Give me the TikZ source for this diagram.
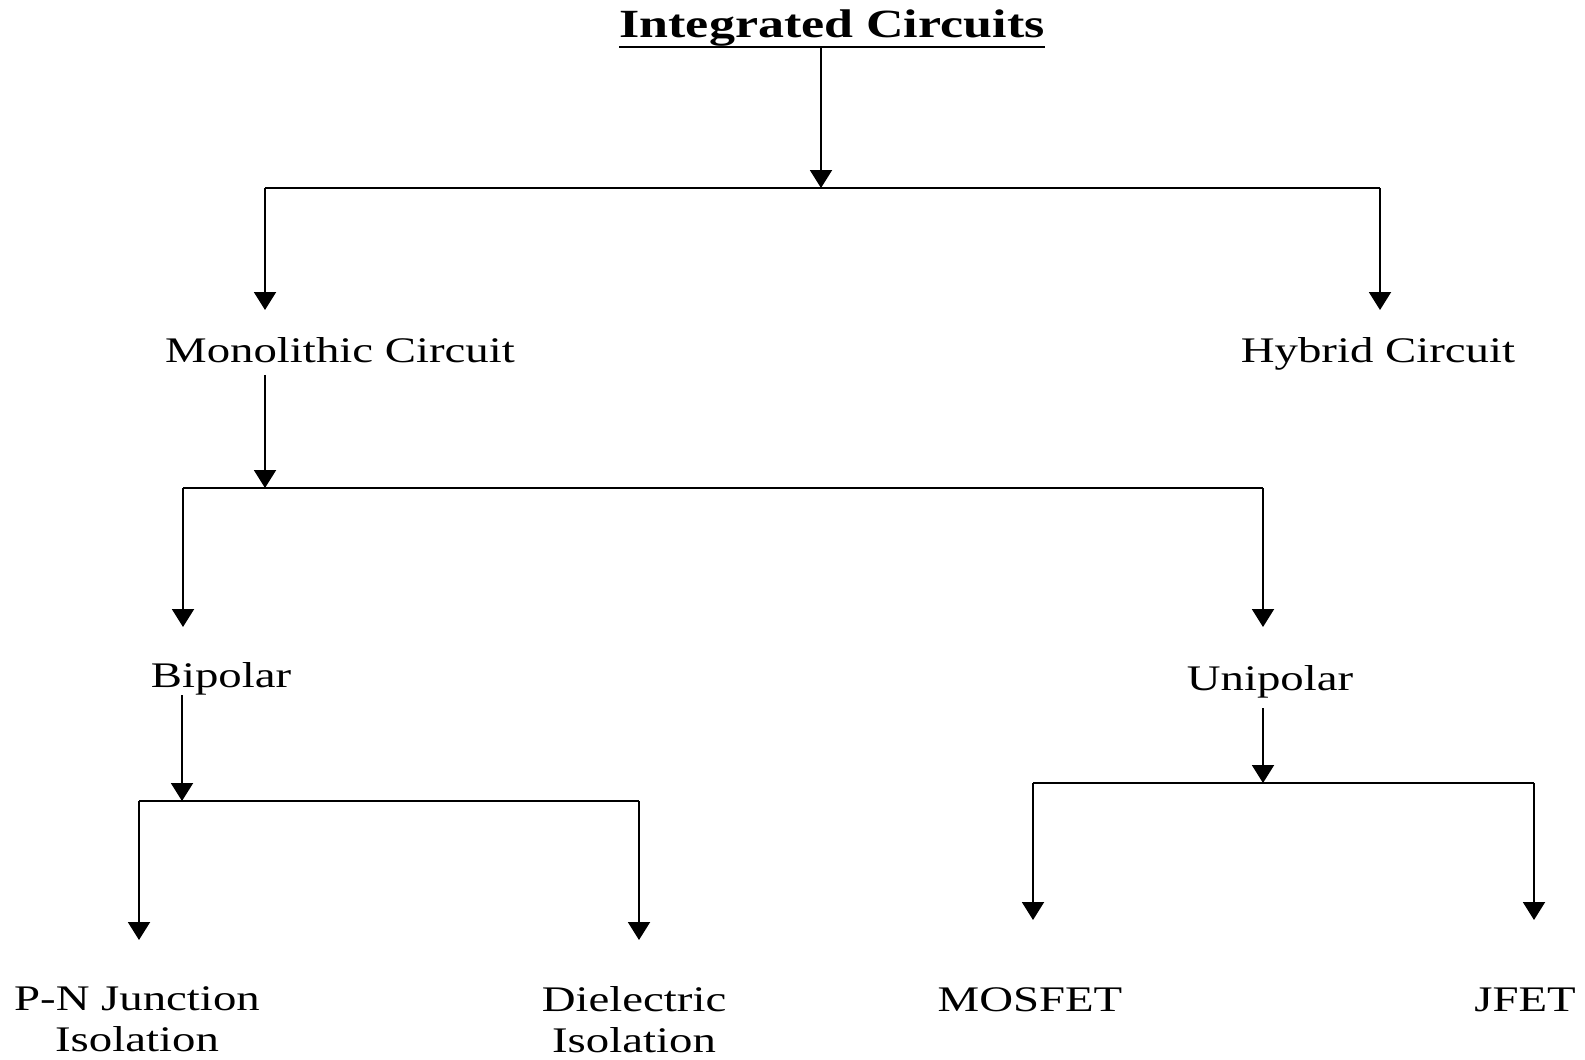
\documentclass[tikz,border=0pt]{standalone}
\usepackage{fontspec}
\setmainfont{Liberation Serif}[FakeStretch=1.3]
\usetikzlibrary{arrows.meta}

\begin{document}
\begin{tikzpicture}[x=0.5pt,y=-0.5pt]

\tikzstyle{heading}=[inner sep=0pt,font=\fontsize{20}{24}\selectfont\bfseries]
\tikzstyle{item}=[inner sep=0pt,font=\fontsize{18}{20.5}\selectfont,align=center]
\tikzstyle{branch}=[draw,line width=1pt]
\tikzstyle{arrow}=[draw,line width=1pt,-{Triangle[width=11pt,length=9pt]}]

\useasboundingbox (0,0) rectangle (1585,1060);

% classes
\node[heading,anchor=base] (ic) at (832,38) {Integrated Circuits};
\draw[line width=1.4pt] ([yshift=-4.5pt]ic.base west) -- ([yshift=-4.5pt]ic.base east);
\node[item,anchor=base] (mono) at (340,362) {Monolithic Circuit};
\node[item,anchor=base] (hyb) at (1378,362) {Hybrid Circuit};
\node[item,anchor=base] (bip) at (221,687) {Bipolar};
\node[item,anchor=base] (uni) at (1270,690) {Unipolar};
\node[item,anchor=north] (pn) at (137,986) {P-N Junction\\Isolation};
\node[item,anchor=north] (diel) at (634,986) {Dielectric\\Isolation};
\node[item,anchor=base] (mos) at (1030,1011) {MOSFET};
\node[item,anchor=base] (jfet) at (1525,1011) {JFET};

% junctions and arrow tips
\coordinate (icj) at (821,188);
\coordinate (monoj) at (265,488);
\coordinate (bipj) at (182,801);
\coordinate (unij) at (1263,783);
\coordinate (monot) at (265,310);
\coordinate (hybt) at (1380,310);
\coordinate (bipt) at (183,627);
\coordinate (unit) at (1263,627);
\coordinate (pnt) at (139,940);
\coordinate (dielt) at (639,940);
\coordinate (most) at (1033,920);
\coordinate (jfett) at (1534,920);

\path[arrow] ([yshift=-0.5pt]ic.south -| icj) -- (icj);
\path[arrow] ([yshift=-6pt]mono.south -| monoj) -- (monoj);
\path[arrow] (bip.south -| bipj) -- (bipj);
\path[arrow] ([yshift=-5pt]uni.south -| unij) -- (unij);

\foreach \j/\a/\b in {icj/monot/hybt, monoj/bipt/unit, bipj/pnt/dielt, unij/most/jfett}
{
  \path[branch] (\a |- \j) -- (\b |- \j);
  \path[arrow] (\a |- \j) -- (\a);
  \path[arrow] (\b |- \j) -- (\b);
}
\end{tikzpicture}
\end{document}
